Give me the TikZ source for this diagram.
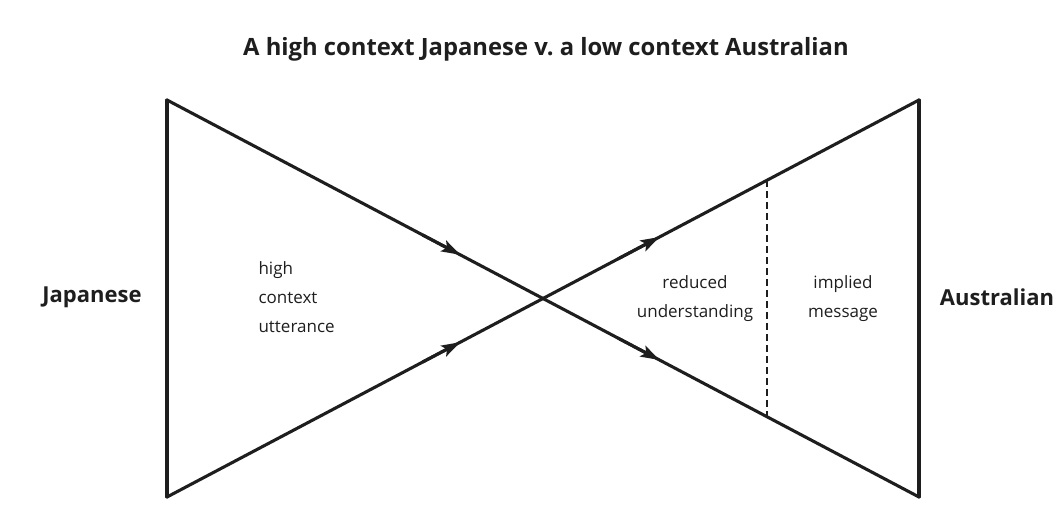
\documentclass[tikz,border=0pt]{standalone}
\usepackage{fontspec}
\setmainfont{Open Sans}
\usetikzlibrary{positioning, arrows.meta, calc}
\definecolor{inkgray}{RGB}{30, 30, 30}

\tikzset{
  edge/.style={draw=inkgray, line width=3.1pt, line cap=round},
  label/.style={align=center, font=\fontsize{17}{29}\selectfont, text=inkgray},
  side/.style={font=\bfseries\fontsize{22}{26}\selectfont, text=inkgray}
}

\begin{document}
\begin{tikzpicture}[x=1pt, y=-1pt, >={Stealth[length=19pt, width=12pt, inset=4pt]}]
  \useasboundingbox (0,0) rectangle (1056,518);
  % corners of the two triangles
  \coordinate (jtop) at (167,100);
  \coordinate (jbot) at (167,497);
  \coordinate (atop) at (919,100);
  \coordinate (abot) at (919,497);
  % vertical sides
  \draw[edge] (jtop) -- (jbot);
  \draw[edge] (atop) -- (abot);
  % diagonals with arrows
  \foreach \s/\e in {jtop/abot, jbot/atop}{
    \draw[edge] (\s) -- (\e);
    \draw[edge, ->] ($(\s)!0.34!(\e)$) -- ($(\s)!0.39!(\e)$);
    \draw[edge, ->] ($(\s)!0.60!(\e)$) -- ($(\s)!0.655!(\e)$);
  }
  % dashed divider
  \coordinate (dtop) at ($(jbot)!0.798!(atop)$);
  \coordinate (dbot) at ($(jtop)!0.798!(abot)$);
  \draw[draw=inkgray, line width=2.3pt, dash pattern=on 7pt off 4pt] (dtop) -- (dbot);
  % texts
  \node[side, font=\bfseries\fontsize{23.8}{28}\selectfont] (title) at (546,49) {A high context Japanese v.\ a low context Australian};
  \node[side] (jp) at (92,297) {Japanese};
  \node[side] (au) at (997,297) {Australian};
  \node[label, align=left, anchor=west] (hcu) at (255,297) {high\\context\\utterance};
  \node[label] (ru) at (695,299) {reduced\\understanding};
  \node[label] (im) at (843,299) {implied\\message};
\end{tikzpicture}
\end{document}
